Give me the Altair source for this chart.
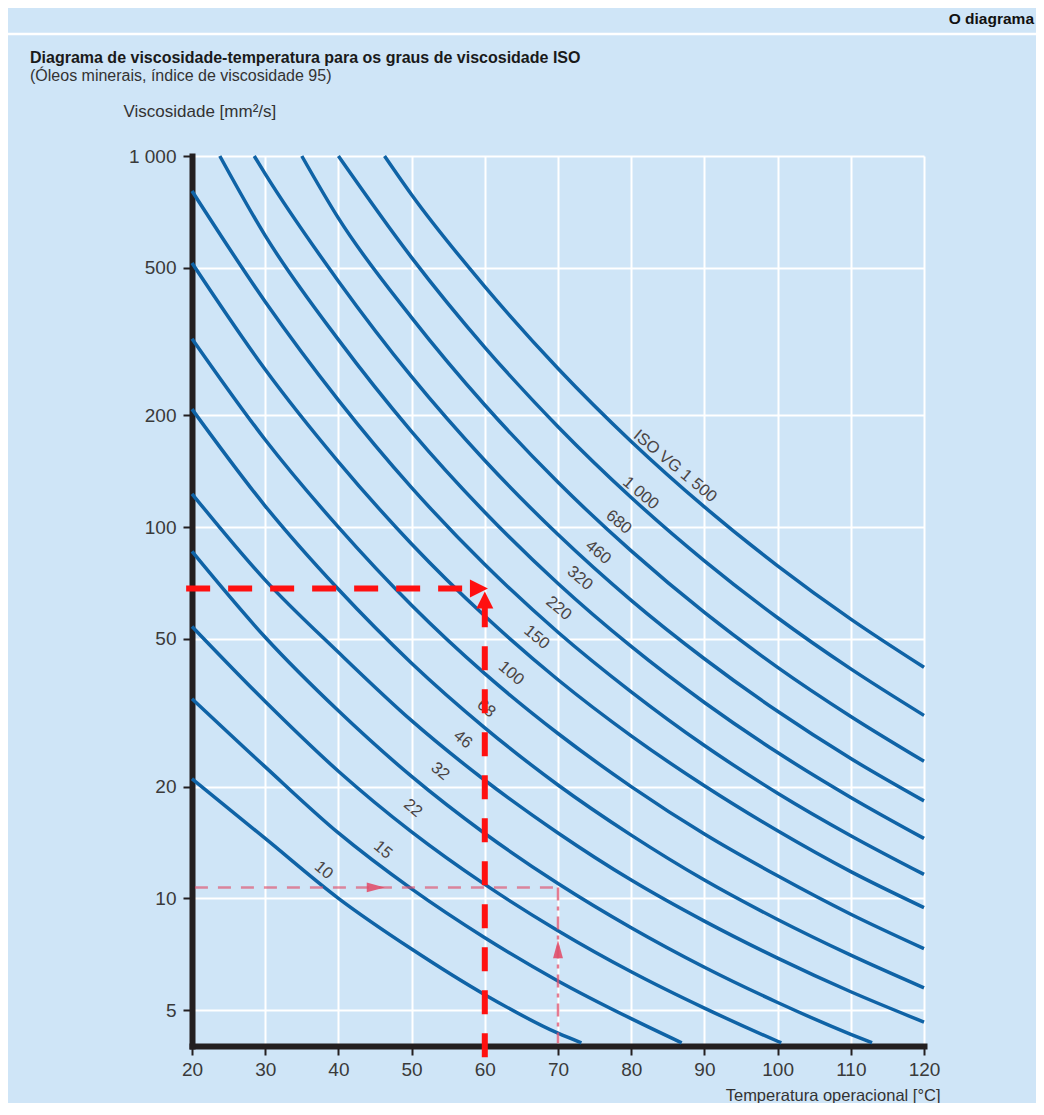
import altair as alt
import pandas as pd

# ---------------- data ----------------
x_ticks = [20, 30, 40, 50, 60, 70, 80, 90, 100, 110, 120]
y_ticks = [5, 10, 20, 50, 100, 200, 500, 1000]
y_tick_labels = ["5", "10", "20", "50", "100", "200", "500", "1 000"]

grades = ["10", "15", "22", "32", "46", "68", "100", "150", "220", "320", "460", "680", "1000", "1500"]

vg10_t = [20, 30, 40, 50, 60, 70, 73.2]
vg10_v = [21.0, 14.5, 10.0, 7.3, 5.5, 4.33, 4.08]
vg15_t = [20, 30, 40, 50, 60, 70, 80, 86.9]
vg15_v = [34.5, 22.6, 15.0, 10.6, 7.83, 5.99, 4.74, 4.08]
vg22_t = [20, 30, 40, 50, 60, 70, 80, 90, 100, 100.5]
vg22_v = [54.0, 33.9, 22.0, 15.1, 10.9, 8.18, 6.34, 5.06, 4.12, 4.08]
vg32_t = [20, 30, 40, 50, 60, 70, 80, 90, 100, 110, 112.9]
vg32_v = [86.0, 50.5, 32.0, 21.3, 14.95, 10.96, 8.33, 6.52, 5.24, 4.30, 4.08]
vg46_t = [20, 30, 40, 50, 60, 70, 80, 90, 100, 110, 120]
vg46_v = [123, 72.0, 46.0, 30.1, 20.8, 15.0, 11.2, 8.68, 6.90, 5.60, 4.64]
vg68_t = [20, 30, 40, 50, 60, 70, 80, 90, 100, 110, 120]
vg68_v = [208, 114, 68.0, 43.0, 28.8, 20.2, 14.8, 11.2, 8.77, 7.03, 5.74]
vg100_t = [20, 30, 40, 50, 60, 70, 80, 90, 100, 110, 120]
vg100_v = [322, 172, 100, 61.6, 40.3, 27.8, 20.0, 14.9, 11.5, 9.06, 7.32]
vg150_t = [20, 30, 40, 50, 60, 70, 80, 90, 100, 110, 120]
vg150_v = [515, 266, 150, 90.1, 57.6, 38.8, 27.4, 20.1, 15.2, 11.8, 9.44]
vg220_t = [20, 30, 40, 50, 60, 70, 80, 90, 100, 110, 120]
vg220_v = [805, 405, 220, 127.8, 79.3, 52.1, 36.0, 25.8, 19.2, 14.75, 11.6]
vg320_t = [23.8, 30, 40, 50, 60, 70, 80, 90, 100, 110, 120]
vg320_v = [1000, 610, 320, 180.9, 109.7, 70.5, 47.7, 33.7, 24.7, 18.7, 14.5]
vg460_t = [28.5, 30, 40, 50, 60, 70, 80, 90, 100, 110, 120]
vg460_v = [1000, 895, 460, 254.3, 151.2, 95.5, 63.5, 44.2, 31.9, 23.8, 18.3]
vg680_t = [35.0, 40, 50, 60, 70, 80, 90, 100, 110, 120]
vg680_v = [1000, 680, 367, 213.4, 132.1, 86.3, 58.9, 41.9, 30.9, 23.4]
vg1000_t = [40, 50, 60, 70, 80, 90, 100, 110, 120]
vg1000_v = [1000, 532.5, 305.2, 186.5, 120.2, 81.15, 57.0, 41.5, 31.1]
vg1500_t = [46.3, 50, 60, 70, 80, 90, 100, 110, 120]
vg1500_v = [1000, 786.4, 444.9, 267.7, 170.2, 113.4, 78.65, 56.5, 41.9]

label_text = ["10", "15", "22", "32", "46", "68", "100", "150", "220", "320", "460", "680", "1 000", "ISO VG 1 500"]
label_t = [38.0, 46.1, 50.2, 53.9, 57.0, 60.2, 63.6, 67.1, 70.1, 73.0, 75.5, 78.3, 81.3, 86.0]
label_v = [11.9, 13.5, 17.5, 22.0, 26.8, 32.5, 40.4, 50.5, 60.5, 72.9, 85.6, 103.2, 123.5, 146]

# example reading lines (red)
thick_h_t = [19.2, 58.0]
thick_h_v = 68.3
thick_v_t = 60.0
thick_v_v = [3.73, 60.9]
thick_arrow_right = (59.2, 68.3)
thick_arrow_up = (60.0, 63.6)

thin_h_t = [20.4, 70.0]
thin_h_v = 10.7
thin_v_t = 70.0
thin_v_v = [10.7, 4.07]
thin_arrow_right = (45.1, 10.7)
thin_arrow_up = (70.0, 7.29)

header_text = "O diagrama"
title_text = "Diagrama de viscosidade-temperatura para os graus de viscosidade ISO"
subtitle_text = "(Óleos minerais, índice de viscosidade 95)"
x_title = "Temperatura operacional [°C]"
y_title = "Viscosidade [mm²/s]"

# ---------------- build tables ----------------
curve_t = [vg10_t, vg15_t, vg22_t, vg32_t, vg46_t, vg68_t, vg100_t, vg150_t,
           vg220_t, vg320_t, vg460_t, vg680_t, vg1000_t, vg1500_t]
curve_v = [vg10_v, vg15_v, vg22_v, vg32_v, vg46_v, vg68_v, vg100_v, vg150_v,
           vg220_v, vg320_v, vg460_v, vg680_v, vg1000_v, vg1500_v]
rows = []
for g, ts, vs in zip(grades, curve_t, curve_v):
    for i, (t, v) in enumerate(zip(ts, vs)):
        rows.append({"grade": g, "T": t, "v": v, "i": i})
curves_df = pd.DataFrame(rows)
labels_df = pd.DataFrame({"label": label_text, "T": label_t, "v": label_v})

BG = "#cfe5f7"
BLUE = "#0f63a6"
BLACK = "#231f20"
RED = "#ff1010"
PINK = "#e0506c"
FONT = "Liberation Sans"

label_expr = "".join(
    f"datum.value == {v} ? '{s}' : " for v, s in zip(y_ticks, y_tick_labels)
) + "''"

xs = alt.Scale(domain=[20, 120], nice=False, zero=False)
ys = alt.Scale(type="log", domain=[4, 1000], nice=False)

x_axis = alt.Axis(values=x_ticks, grid=True, gridColor="white", gridWidth=2,
                  domainColor=BLACK, domainWidth=6, domainCap="square",
                  tickColor=BLACK, tickWidth=2, tickSize=9,
                  labelFont=FONT, labelFontSize=19, labelColor="#3a3a3a",
                  labelPadding=5, labelFlush=False, labelOverlap=False,
                  title=x_title, titleFont=FONT, titleFontSize=16.5,
                  titleFontWeight="normal", titleColor="#333333",
                  titleAlign="right", titleBaseline="alphabetic",
                  titleX=748, titleY=54)
y_axis = alt.Axis(values=y_ticks, labelExpr=label_expr, grid=True,
                  gridColor="white", gridWidth=2,
                  domainColor=BLACK, domainWidth=6, domainCap="square",
                  tickColor=BLACK, tickWidth=2, tickSize=9,
                  labelFont=FONT, labelFontSize=19, labelColor="#3a3a3a",
                  labelPadding=7, labelOverlap=False,
                  title=y_title, titleFont=FONT, titleFontSize=17,
                  titleFontWeight="normal", titleColor="#333333",
                  titleAngle=0, titleAlign="left", titleBaseline="middle",
                  titleX=-69, titleY=-45)

lines = alt.Chart(curves_df).mark_line(
    color=BLUE, strokeWidth=3.5, interpolate="monotone"
).encode(
    x=alt.X("T:Q", scale=xs, axis=x_axis),
    y=alt.Y("v:Q", scale=ys, axis=y_axis),
    detail="grade:N",
    order="i:Q",
)

labels = alt.Chart(labels_df).mark_text(
    angle=40, font=FONT, fontSize=16.5, color="#4a4444",
    align="center", baseline="middle"
).encode(
    x=alt.X("T:Q", scale=xs), y=alt.Y("v:Q", scale=ys), text="label:N"
)

thick_h = alt.Chart(pd.DataFrame({"t1": [thick_h_t[0]], "t2": [thick_h_t[1]], "v": [thick_h_v]})).mark_rule(
    color=RED, strokeWidth=6, strokeDash=[24, 18]
).encode(x=alt.X("t1:Q", scale=xs), x2="t2:Q", y=alt.Y("v:Q", scale=ys))

thick_v = alt.Chart(pd.DataFrame({"t": [thick_v_t], "v1": [thick_v_v[0]], "v2": [thick_v_v[1]]})).mark_rule(
    color=RED, strokeWidth=6, strokeDash=[24, 19]
).encode(x=alt.X("t:Q", scale=xs), y=alt.Y("v1:Q", scale=ys), y2="v2:Q")

thin_h = alt.Chart(pd.DataFrame({"t1": [thin_h_t[0]], "t2": [thin_h_t[1]], "v": [thin_h_v]})).mark_rule(
    color=PINK, strokeWidth=2.5, strokeDash=[13, 10], opacity=0.65
).encode(x=alt.X("t1:Q", scale=xs), x2="t2:Q", y=alt.Y("v:Q", scale=ys))

thin_v = alt.Chart(pd.DataFrame({"t": [thin_v_t], "v1": [thin_v_v[0]], "v2": [thin_v_v[1]]})).mark_rule(
    color=PINK, strokeWidth=2.5, strokeDash=[13, 6, 4, 6], opacity=0.75
).encode(x=alt.X("t:Q", scale=xs), y=alt.Y("v1:Q", scale=ys), y2="v2:Q")

RIGHT = "M-1,-1L1,0L-1,1Z"
UP = "M-1,1L0,-1L1,1Z"
RIGHT_THIN = "M-1,-0.55L1,0L-1,0.55Z"
UP_THIN = "M-0.55,1L0,-1L0.55,1Z"

def arrow(pt, shape, size, color, opacity=1.0):
    return alt.Chart(pd.DataFrame({"t": [pt[0]], "v": [pt[1]]})).mark_point(
        shape=shape, size=size, filled=True, color=color, opacity=opacity, strokeWidth=0
    ).encode(x=alt.X("t:Q", scale=xs), y=alt.Y("v:Q", scale=ys))

a1 = arrow(thick_arrow_right, RIGHT, 324, RED)
a2 = arrow(thick_arrow_up, UP, 289, RED)
a3 = arrow(thin_arrow_right, RIGHT_THIN, 324, PINK, 0.9)
a4 = arrow(thin_arrow_up, UP_THIN, 324, PINK, 0.9)

header_line = alt.Chart(pd.DataFrame({"k": [0]})).mark_rule(
    color="white", strokeWidth=2.5
).encode(x=alt.value(-184), x2=alt.value(844), y=alt.value(-122))

header = alt.Chart(pd.DataFrame({"s": [header_text]})).mark_text(
    font=FONT, fontSize=15.5, fontWeight="bold", color="#111111", align="right", baseline="middle"
).encode(text="s:N", x=alt.value(842), y=alt.value(-137))

title = alt.Chart(pd.DataFrame({"s": [title_text]})).mark_text(
    font=FONT, fontSize=16, fontWeight="bold", color="#1a1a1a", align="left", baseline="middle"
).encode(text="s:N", x=alt.value(-162), y=alt.value(-98))

subtitle = alt.Chart(pd.DataFrame({"s": [subtitle_text]})).mark_text(
    font=FONT, fontSize=16, color="#333333", align="left", baseline="middle"
).encode(text="s:N", x=alt.value(-162), y=alt.value(-80))

chart = alt.layer(
    lines, labels, thin_h, thin_v, a3, a4, thick_h, thick_v, a1, a2,
    header_line, header, title, subtitle
).properties(
    width=732, height=890, background=BG,
    padding={"left": 184, "top": 148, "right": 112, "bottom": 57},
    autosize=alt.AutoSizeParams(type="none"),
).configure_view(fill=BG, stroke="transparent")

chart.save("out.html", embed_options={"renderer": "svg", "actions": False})
